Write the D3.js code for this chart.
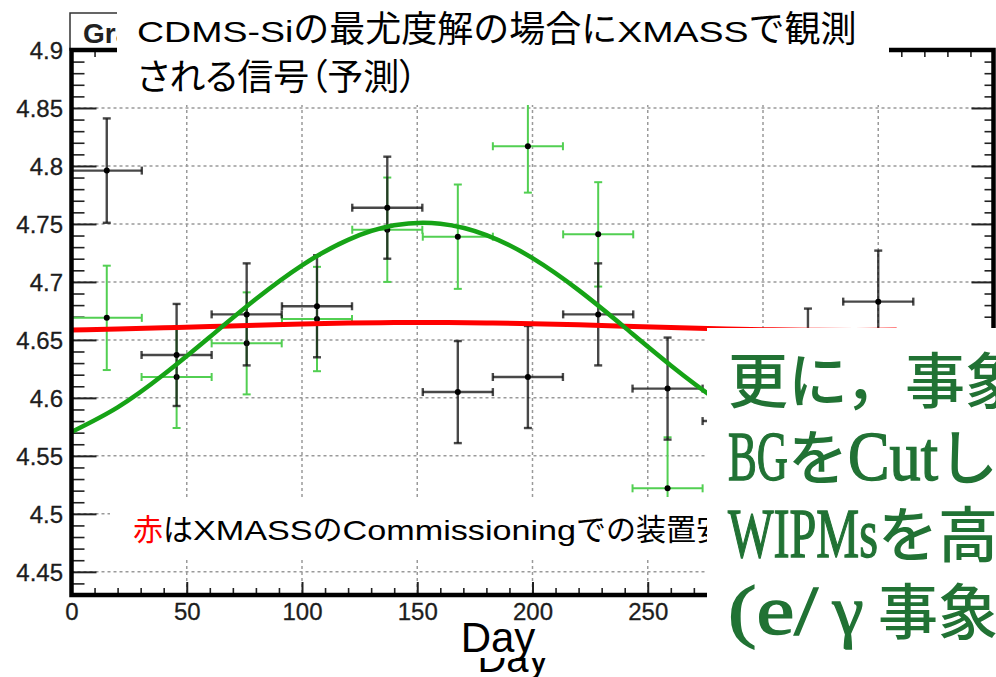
<!DOCTYPE html>
<html>
<head>
<meta charset="utf-8">
<script src="https://cdn.jsdelivr.net/npm/d3@7"></script>
<style>
  html, body { margin: 0; padding: 0; background: #fff; }
  svg { display: block; }
</style>
</head>
<body>
<script>
// ---- data ----
// monthly bins (day of bin centre) and half bin width
const binDays   = [15.3, 45.6, 76.0, 106.5, 137.0, 167.6, 198.0, 228.5, 258.6, 289.0, 319.5, 350.0];
const binHalf   = [15.2, 15.2, 15.2, 15.2, 15.2, 15.2, 15.2, 15.2, 15.2, 15.2, 15.2, 15.2];
// measured rate (black)
const rateObs    = [4.796, 4.637, 4.672, 4.679, 4.764, 4.605, 4.618, 4.672, 4.608, 4.580, 4.633, 4.683];
const rateObsErr = [0.045, 0.044, 0.044, 0.044, 0.044, 0.044, 0.044, 0.044, 0.044, 0.044, 0.044, 0.044];
// expected rate with CDMS-Si best-fit signal (green)
const rateSig    = [4.669, 4.618, 4.647, 4.668, 4.745, 4.739, 4.817, 4.741, 4.522];
const rateSigErr = [0.045, 0.044, 0.044, 0.045, 0.045, 0.045, 0.040, 0.045, 0.044];
// fitted curves sampled along the day axis
const curveDays = [0, 20, 40, 60, 80, 100, 120, 140, 160, 180, 200, 220, 240, 260, 280, 300, 320, 340, 358];
const fitSignal = [4.5706, 4.5918, 4.6201, 4.6525, 4.6852, 4.7143, 4.7363, 4.7488, 4.7502, 4.7404,
                   4.7205, 4.6929, 4.6608, 4.6280, 4.5983, 4.5750, 4.5612, 4.5583, 4.5655];
const fitFlat   = [4.6586, 4.6594, 4.6604, 4.6615, 4.6627, 4.6637, 4.6645, 4.6649, 4.6650, 4.6646,
                   4.6639, 4.6630, 4.6618, 4.6607, 4.6596, 4.6588, 4.6583, 4.6582, 4.6585];
// axis ticks
const xTicks = [0, 50, 100, 150, 200, 250, 300, 350, 400];
const xTickLabels = ["0", "50", "100", "150", "200", "250", "300", "350", "400"];
const yTicks = [4.45, 4.5, 4.55, 4.6, 4.65, 4.7, 4.75, 4.8, 4.85, 4.9];
const yTickLabels = ["4.45", "4.5", "4.55", "4.6", "4.65", "4.7", "4.75", "4.8", "4.85", "4.9"];

// ---- layout ----
const W = 996, H = 677;
const x = d3.scaleLinear().domain([0, 400]).range([71.5, 993.5]);
const y = d3.scaleLinear().domain([4.43, 4.9]).range([595, 50]);

const svg = d3.select("body").append("svg").attr("width", W).attr("height", H);
svg.append("rect").attr("width", W).attr("height", H).attr("fill", "#fff");

const CJK = "'Noto Sans CJK JP', 'Noto Sans CJK SC', sans-serif";
const SANS = "'Liberation Sans', Arial, sans-serif";
const SERIF = "'Liberation Serif', 'Times New Roman', serif";

// ROOT-style title box peeking out at the top-left
const gTitleBox = svg.append("g");
gTitleBox.append("rect").attr("x", 70).attr("y", 13).attr("width", 120).attr("height", 37)
  .attr("fill", "#fff").attr("stroke", "#333").attr("stroke-width", 1.5);
gTitleBox.append("text").attr("x", 83).attr("y", 43).attr("font-family", SANS)
  .attr("font-weight", 700).attr("font-size", 28).attr("fill", "#222").text("Graph");

// ---- grid ----
const gGrid = svg.append("g").attr("stroke", "#9a9a9a").attr("stroke-width", 1.5).attr("stroke-dasharray", "3,3");
gGrid.selectAll("line.v").data(xTicks.filter(d => d > 0 && d < 400)).join("line")
  .attr("x1", d => x(d)).attr("x2", d => x(d)).attr("y1", y(4.9)).attr("y2", y(4.43));
gGrid.selectAll("line.h").data(yTicks.filter(d => d < 4.9)).join("line")
  .attr("x1", x(0)).attr("x2", x(400)).attr("y1", d => y(d)).attr("y2", d => y(d));

// ---- axes (ROOT style: ticks inside the frame) ----
const xMinor = d3.range(0, 401, 10).filter(d => d % 50 !== 0);
const yMinor = d3.range(443, 491).map(v => v / 100).filter(v => Math.round(v * 100) % 5 !== 0);

function tickAxis(axis, values, size, tx, ty, width) {
  const g = svg.append("g").attr("transform", `translate(${tx},${ty})`)
    .call(axis.tickValues(values).tickSize(size).tickFormat(""));
  g.select(".domain").remove();
  g.selectAll(".tick line").attr("stroke", "#222").attr("stroke-width", width);
  return g;
}
tickAxis(d3.axisTop(x), xTicks, 13, 0, y(4.43), 2);
tickAxis(d3.axisTop(x), xMinor, 7, 0, y(4.43), 1.6);
tickAxis(d3.axisBottom(x), xTicks, 13, 0, y(4.9), 2);
tickAxis(d3.axisBottom(x), xMinor, 7, 0, y(4.9), 1.6);
tickAxis(d3.axisRight(y), yTicks, 25, x(0), 0, 2);
tickAxis(d3.axisRight(y), yMinor, 13, x(0), 0, 1.6);
tickAxis(d3.axisLeft(y), yTicks, 22, x(400), 0, 2);
tickAxis(d3.axisLeft(y), yMinor, 9, x(400), 0, 1.6);

// tick labels
const gYL = svg.append("g").attr("transform", `translate(63,0)`)
  .call(d3.axisLeft(y).tickValues(yTicks).tickSize(0).tickPadding(0).tickFormat((d, i) => yTickLabels[i]));
gYL.select(".domain").remove();
gYL.selectAll("text").attr("font-family", SANS).attr("font-size", 24).attr("fill", "#1d1d1d")
  .attr("stroke", "#1d1d1d").attr("stroke-width", 0.3).attr("dy", "0.36em").attr("dx", 0);
const gXL = svg.append("g").attr("transform", `translate(0,${y(4.43) + 8})`)
  .call(d3.axisBottom(x).tickValues(xTicks).tickSize(0).tickPadding(0).tickFormat((d, i) => xTickLabels[i]));
gXL.select(".domain").remove();
gXL.selectAll("text").attr("font-family", SANS).attr("font-size", 24).attr("fill", "#1d1d1d")
  .attr("stroke", "#1d1d1d").attr("stroke-width", 0.3).attr("dy", "0.72em");

// ---- error-bar series ----
function errSeries(vals, errs, color, width) {
  const g = svg.append("g").attr("stroke", color).attr("stroke-width", width).attr("fill", "none");
  const pts = vals.map((v, i) => ({ d: binDays[i], hx: binHalf[i], v, e: errs[i] }));
  const cap = 4;
  pts.forEach(p => {
    const cx = x(p.d), cy = y(p.v);
    const xl = x(p.d - p.hx), xr = x(p.d + p.hx), yt = y(p.v + p.e), yb = y(p.v - p.e);
    g.append("line").attr("x1", xl).attr("x2", xr).attr("y1", cy).attr("y2", cy);
    g.append("line").attr("x1", cx).attr("x2", cx).attr("y1", yt).attr("y2", yb);
    g.append("line").attr("x1", xl).attr("x2", xl).attr("y1", cy - cap).attr("y2", cy + cap);
    g.append("line").attr("x1", xr).attr("x2", xr).attr("y1", cy - cap).attr("y2", cy + cap);
    g.append("line").attr("x1", cx - cap).attr("x2", cx + cap).attr("y1", yt).attr("y2", yt);
    g.append("line").attr("x1", cx - cap).attr("x2", cx + cap).attr("y1", yb).attr("y2", yb);
  });
  svg.append("g").selectAll("circle").data(pts).join("circle")
    .attr("cx", p => x(p.d)).attr("cy", p => y(p.v)).attr("r", 3).attr("fill", "#000");
}
errSeries(rateSig, rateSigErr, "#52cf52", 2);
errSeries(rateObs, rateObsErr, "rgba(20,20,20,0.78)", 2.4);

// ---- fitted curves ----
const line = d3.line().x(d => x(d[0])).y(d => y(d[1])).curve(d3.curveNatural);
svg.append("path").attr("d", line(curveDays.map((d, i) => [d, fitFlat[i]])))
  .attr("fill", "none").attr("stroke", "#ff0000").attr("stroke-width", 5);
svg.append("path").attr("d", line(curveDays.map((d, i) => [d, fitSignal[i]])))
  .attr("fill", "none").attr("stroke", "#16a316").attr("stroke-width", 4.5);

// ---- frame ----
svg.append("rect").attr("x", x(0)).attr("y", y(4.9)).attr("width", x(400) - x(0)).attr("height", y(4.43) - y(4.9))
  .attr("fill", "none").attr("stroke", "#000").attr("stroke-width", 4.5);

// axis title from the plot itself
svg.append("text").attr("x", 513).attr("y", 672).attr("text-anchor", "middle")
  .attr("font-family", SANS).attr("font-size", 40).attr("fill", "#000").text("Day");

// ---- mixed Latin / Japanese text helper ----
// "lat": Latin run (scaled, or forced to half-width); "cjk": natural width;
// "full": one full-width cell with the glyph centred in it.
function textRuns(g, x0, baseline, runs, o) {
  let cx = x0;
  runs.forEach(r => {
    const lat = r.kind === "lat" || r.kind === "full";
    const t = g.append("text").attr("x", cx).attr("y", baseline)
      .attr("font-family", lat ? o.latFamily : o.cjkFamily)
      .attr("font-size", lat ? o.latSize : o.cjkSize)
      .attr("font-weight", lat ? (o.latWeight || 400) : (o.cjkWeight || 400))
      .attr("fill", r.fill || o.fill)
      .style("font-feature-settings", r.palt ? '"palt"' : null)
      .text(r.t);
    if (lat && o.latStroke) t.attr("stroke", r.fill || o.fill).attr("stroke-width", o.latStroke);
    let w = t.node().getComputedTextLength();
    if (r.kind === "full") {
      t.attr("x", cx + o.cjkSize / 2).attr("text-anchor", "middle");
      w = o.cjkSize;
    } else if (r.kind === "lat") {
      const target = o.latHalf ? r.t.length * o.cjkSize * 0.5 : w * o.latScale;
      t.attr("textLength", target).attr("lengthAdjust", "spacingAndGlyphs");
      w = target;
    }
    cx += w;
  });
}

// slide title over the plot
const gTitle = svg.append("g");
gTitle.append("rect").attr("x", 117).attr("y", 0).attr("width", 772).attr("height", 105).attr("fill", "#fff");
const titleOpts = { cjkFamily: CJK, latFamily: SANS, cjkSize: 36, latSize: 30, latScale: 1.25, fill: "#000" };
textRuns(gTitle, 137, 42, [
  { t: "CDMS-Si", kind: "lat" }, { t: "の最尤度解の場合に", kind: "cjk" },
  { t: "XMASS", kind: "lat" }, { t: "で観測", kind: "cjk" }
], titleOpts);
textRuns(gTitle, 137, 90, [{ t: "される信号（予測）", kind: "cjk", palt: true }], titleOpts);

// note line
const gNote = svg.append("g");
gNote.append("rect").attr("x", 110).attr("y", 497).attr("width", 600).attr("height", 60).attr("fill", "#fff");
textRuns(gNote, 133, 540, [
  { t: "赤", kind: "cjk", fill: "#ff0000" }, { t: "は", kind: "cjk" },
  { t: "XMASS", kind: "lat" }, { t: "の", kind: "cjk" },
  { t: "Commissioning", kind: "lat" }, { t: "での装置安", kind: "cjk" }
], { cjkFamily: CJK, latFamily: SANS, cjkSize: 30, latSize: 28, latScale: 1.22, fill: "#000" });

// axis label on top
svg.append("rect").attr("x", 440).attr("y", 623).attr("width", 140).attr("height", 35).attr("fill", "#fff");
svg.append("text").attr("x", 498).attr("y", 652).attr("text-anchor", "middle")
  .attr("font-family", SANS).attr("font-size", 42).attr("fill", "#000").text("Day");

// green comment block at the lower right
const gSide = svg.append("g");
gSide.append("rect").attr("x", 707).attr("y", 328).attr("width", W - 707).attr("height", H - 328).attr("fill", "#fff");
const sideOpts = { cjkFamily: CJK, latFamily: SERIF, cjkSize: 60, latSize: 70, latHalf: true,
                   cjkWeight: 500, latWeight: 400, latStroke: 1.4, fill: "#217234" };
textRuns(gSide, 728, 403, [{ t: "更に，事象", kind: "cjk" }], sideOpts);
textRuns(gSide, 728, 480, [
  { t: "BG", kind: "lat" }, { t: "を", kind: "cjk" }, { t: "Cut", kind: "lat" }, { t: "し", kind: "cjk" }
], sideOpts);
textRuns(gSide, 728, 557, [{ t: "WIPMs", kind: "lat" }, { t: "を高", kind: "cjk" }], sideOpts);
textRuns(gSide, 728, 634, [
  { t: "(e/", kind: "lat" }, { t: "γ", kind: "full" }, { t: "事象", kind: "cjk" }
], sideOpts);
</script>
</body>
</html>
